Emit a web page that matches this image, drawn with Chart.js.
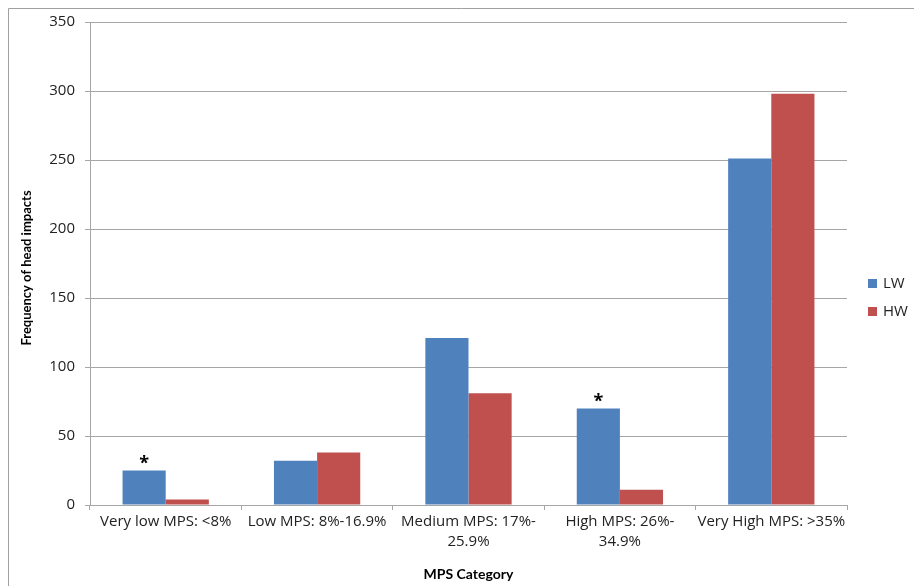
<!DOCTYPE html>
<html>
<head>
<meta charset="utf-8">
<script src="https://cdn.jsdelivr.net/npm/chart.js@4/dist/chart.umd.min.js"></script>
<style>
  html, body { margin: 0; padding: 0; background: #fff; }
  #wrap { width: 914px; height: 586px; position: relative; }
</style>
</head>
<body>
<div id="wrap"><canvas id="chart" width="914" height="586"></canvas></div>
<script>
// ── Data ──
const categories = [
  "Very low MPS: <8%",
  "Low MPS: 8%-16.9%",
  ["Medium MPS: 17%-", "25.9%"],
  ["High MPS: 26%-", "34.9%"],
  "Very High MPS: >35%"
];
const lwValues  = [25, 32, 121, 70, 251];
const hwValues  = [4, 38, 81, 11, 298];
const lwStarred = [true, false, false, true, false];
const yTicks    = [0, 50, 100, 150, 200, 250, 300, 350];

const FONT  = "'Open Sans', Lato, sans-serif";
const TFONT = "Lato, 'Open Sans', sans-serif";
const BLUE  = "#4F81BD";
const RED   = "#C0504D";
const GRID  = "#a6a6a6";

// ── Extras: border, titles, legend, asterisks ──
const extras = {
  id: "extras",
  afterDraw(chart) {
    const ctx = chart.ctx;
    const area = chart.chartArea;
    ctx.save();

    // outer frame (left + top edges visible)
    ctx.strokeStyle = "#a0a0a0";
    ctx.lineWidth = 1;
    ctx.beginPath();
    ctx.moveTo(8.5, 586);
    ctx.lineTo(8.5, 8.5);
    ctx.lineTo(914, 8.5);
    ctx.stroke();

    // asterisks above LW bars
    const meta = chart.getDatasetMeta(0);
    ctx.fillStyle = "#000";
    ctx.font = "bold 18px " + FONT;
    ctx.textAlign = "center";
    ctx.textBaseline = "middle";
    meta.data.forEach((bar, i) => {
      if (lwStarred[i]) ctx.fillText("*", bar.x, bar.y - 7);
    });

    // axis titles
    ctx.font = "bold 14px " + TFONT;
    ctx.fillText("MPS Category", (area.left + area.right) / 2, 574);

    ctx.save();
    ctx.translate(27, 268);
    ctx.rotate(-Math.PI / 2);
    ctx.font = "bold 13px " + TFONT;
    ctx.fillText("Frequency of head impacts", 0, 0);
    ctx.restore();

    // legend
    const items = [["LW", BLUE], ["HW", RED]];
    ctx.font = "15px " + FONT;
    ctx.textAlign = "left";
    items.forEach(([label, color], i) => {
      const y = 284 + i * 28;
      ctx.fillStyle = color;
      ctx.fillRect(868, y - 5, 9, 9);
      ctx.fillStyle = "#222";
      ctx.fillText(label, 883, y);
    });

    ctx.restore();
  }
};

new Chart(document.getElementById("chart"), {
  type: "bar",
  data: {
    labels: categories,
    datasets: [
      { label: "LW", data: lwValues, backgroundColor: BLUE },
      { label: "HW", data: hwValues, backgroundColor: RED }
    ]
  },
  options: {
    responsive: false,
    animation: false,
    devicePixelRatio: 1,
    layout: { padding: { top: 22, right: 67, bottom: 0, left: 0 } },
    categoryPercentage: 0.57,
    barPercentage: 1.0,
    plugins: { legend: { display: false }, tooltip: { enabled: false } },
    scales: {
      x: {
        afterFit(scale) { scale.height = 81; },
        grid: {
          offset: true,
          drawOnChartArea: false,
          drawTicks: true,
          tickLength: 5,
          color: GRID
        },
        border: { color: GRID },
        ticks: {
          color: "#222",
          font: { family: FONT, size: 15, lineHeight: 1.3 },
          padding: 2,
          maxRotation: 0,
          autoSkip: false
        }
      },
      y: {
        min: 0,
        max: 350,
        afterFit(scale) { scale.width = 90; },
        afterBuildTicks(scale) { scale.ticks = yTicks.map(v => ({ value: v })); },
        grid: { color: GRID, tickLength: 5, drawTicks: true },
        border: { color: GRID },
        ticks: {
          color: "#222",
          font: { family: FONT, size: 15 },
          padding: 10
        }
      }
    }
  },
  plugins: [extras]
});
</script>
</body>
</html>
